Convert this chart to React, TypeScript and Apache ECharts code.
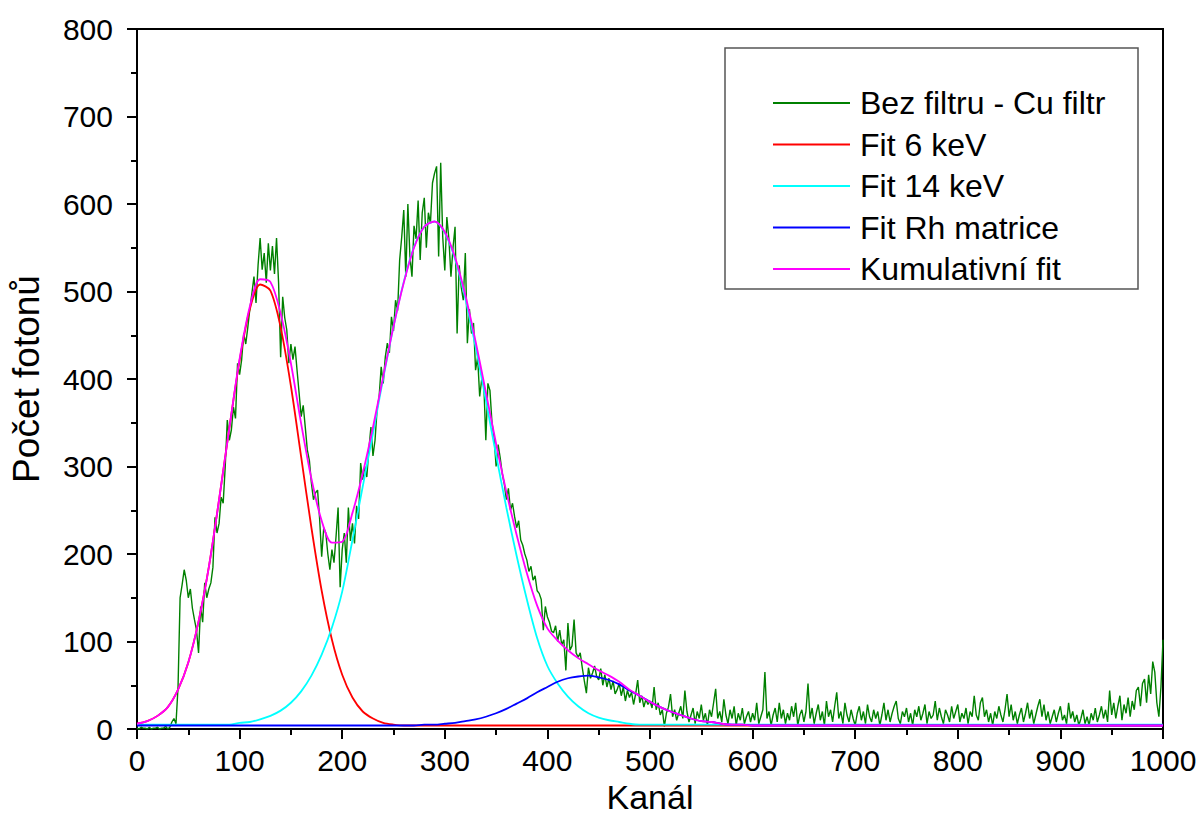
import React, { useEffect, useRef } from "react";
import * as echarts from "echarts";

// Measured spectrum (difference "Bez filtru - Cu filtr"), one value every GREEN_STEP channels
const GREEN_STEP = 2;
const greenCounts = [
  1, 0, 2, 1, 1, 0, 2, 0, 1, 1,
  2, 0, 1, 1, 3, 0, 2, 8, 12, 6,
  48, 150, 165, 182, 170, 150, 160, 138, 125, 113,
  87, 140, 122, 167, 150, 160, 167, 185, 242, 224,
  235, 265, 258, 300, 353, 330, 342, 368, 355, 418,
  405, 422, 452, 440, 459, 480, 498, 517, 487, 530,
  561, 525, 544, 510, 555, 524, 552, 520, 561, 510,
  425, 494, 470, 456, 418, 440, 422, 437, 410, 384,
  357, 370, 345, 319, 307, 281, 262, 270, 273, 240,
  197, 230, 224, 200, 182, 205, 190, 220, 253, 162,
  205, 224, 190, 253, 215, 235, 212, 255, 240, 304,
  285, 300, 288, 320, 345, 312, 330, 365, 380, 414,
  395, 425, 441, 430, 471, 455, 490, 478, 536, 562,
  593, 517, 600, 540, 517, 575, 560, 604, 536, 590,
  607, 550, 590, 578, 624, 635, 643, 540, 647, 562,
  524, 585, 560, 517, 550, 574, 452, 530, 505, 490,
  544, 441, 480, 452, 464, 410, 425, 380, 400, 395,
  330, 395, 387, 350, 334, 300, 325, 310, 292, 280,
  262, 275, 250, 258, 243, 230, 238, 216, 210, 200,
  193, 180, 186, 170, 175, 158, 155, 148, 113, 140,
  128, 122, 112, 110, 118, 100, 113, 96, 102, 67,
  121, 90, 95, 125, 87, 82, 87, 70, 55, 41,
  70, 58, 64, 72, 60, 56, 69, 50, 62, 48,
  58, 45, 55, 40, 45, 52, 38, 48, 32, 44,
  36, 42, 28, 40, 56, 30, 38, 25, 34, 28,
  32, 24, 48, 22, 30, 16, 22, 3, 18, 25,
  40, 14, 22, 10, 18, 26, 12, 44, 20, 8,
  16, 24, 6, 20, 12, 28, 10, 18, 4, 22,
  14, 30, 46, 12, 20, 8, 34, 16, 6, 22,
  12, 26, 4, 18, 10, 24, 6, 14, 20, 8,
  18, 10, 30, 6, 14, 22, 65, 12, 20, 4,
  16, 24, 8, 30, 12, 22, 6, 18, 10, 26,
  14, 30, 4, 16, 22, 8, 20, 52, 12, 24,
  6, 18, 28, 10, 20, 4, 32, 14, 22, 8,
  26, 42, 12, 20, 6, 30, 16, 8, 22, 12,
  4, 18, 26, 10, 20, 6, 28, 14, 8, 22,
  12, 20, 4, 16, 30, 10, 22, 8, 18, 26,
  32, 12, 6, 20, 14, 24, 8, 18, 4, 22,
  14, 26, 10, 18, 28, 6, 20, 12, 16, 32,
  10, 24, 14, 6, 22, 16, 8, 26, 12, 20,
  28, 8, 18, 12, 24, 6, 20, 14, 38, 16,
  10, 30, 36, 14, 22, 8, 18, 4, 20, 12,
  26, 16, 8, 22, 40, 14, 28, 10, 20, 6,
  16, 24, 8, 18, 30, 12, 22, 6, 16, 26,
  34, 14, 28, 10, 20, 6, 14, 22, 8, 18,
  26, 10, 16, 6, 30, 12, 20, 8, 16, 4,
  12, 22, 6, 14, 4, 18, 10, 24, 8, 16,
  26, 12, 22, 8, 44, 16, 30, 12, 26, 38,
  10, 28, 18, 36, 14, 32, 22, 44, 48, 26,
  52, 57, 30, 62, 40, 77, 65, 30, 14, 48,
  102,
];

// Fit curves, sampled every 10 channels from 0 to 600, then one point at 1000
const fitLast = 1000;
const fit6keV = [
  6, 9, 15, 25, 45, 76, 123, 185, 262, 344,
  421, 480, 508, 501, 459, 392, 311, 230, 158, 102,
  62, 36, 20, 12, 7, 5, 4, 4, 4, 4,
  4, 4, 4, 4, 4, 4, 4, 4, 4, 4,
  4, 4, 4, 4, 4, 4, 4, 4, 4, 4,
  4, 4, 4, 4, 4, 4, 4, 4, 4, 4,
  4, 4,
];
const fit14keV = [
  5, 5, 5, 5, 5, 5, 5, 5, 5, 5,
  7, 8, 11, 15, 21, 30, 43, 61, 85, 116,
  157, 216, 277, 338, 401, 460, 511, 551, 574, 580,
  567, 537, 492, 437, 376, 313, 253, 198, 148, 104,
  72, 52, 37, 26, 18, 13, 10, 8, 6, 5,
  5, 5, 5, 5, 5, 5, 5, 5, 5, 5,
  5, 5,
];
const fitRh = [
  4, 4, 4, 4, 4, 4, 4, 4, 4, 4,
  4, 4, 4, 4, 4, 4, 4, 4, 4, 4,
  4, 4, 4, 4, 4, 4, 4, 4, 5, 5,
  6, 7, 9, 11, 14, 18, 23, 29, 35, 42,
  48, 54, 58, 60, 61, 59, 56, 51, 44, 38,
  31, 25, 20, 16, 12, 9, 8, 6, 5, 5,
  4, 4,
];
const fitCumulative = [
  6, 9, 15, 25, 45, 76, 123, 185, 262, 344,
  423, 483, 514, 511, 475, 418, 349, 286, 238, 213,
  214, 247, 292, 345, 403, 460, 510, 550, 574, 580,
  568, 539, 496, 443, 385, 326, 271, 222, 178, 141,
  115, 101, 90, 81, 74, 67, 61, 54, 45, 38,
  31, 25, 20, 16, 12, 9, 8, 6, 5, 5,
  4, 4,
];

const seriesNames = [
  "Bez filtru - Cu filtr",
  "Fit 6 keV",
  "Fit 14 keV",
  "Fit Rh matrice",
  "Kumulativní fit",
];
const seriesColors = ["#008000", "#ff0000", "#00ffff", "#0000ff", "#ff00ff"];

const xTitle = "Kanál";
const yTitle = "Počet fotonů";

function fitPairs(values: number[]): number[][] {
  return values.map((v, i) => [i === values.length - 1 ? fitLast : i * 10, v]);
}

const FONT = 'Arial, "Liberation Sans", sans-serif';

export default function App() {
  const ref = useRef<HTMLDivElement>(null);
  useEffect(() => {
    document.body.style.margin = "0";
    if (!ref.current) return;
    const chart = echarts.init(ref.current, null, { renderer: "svg" });
    const greenData = greenCounts.map((v, i) => [i * GREEN_STEP, v]);
    const fits = [fit6keV, fit14keV, fitRh, fitCumulative];
    const axisCommon = {
      axisLine: { show: true, lineStyle: { color: "#000", width: 2 } },
      axisTick: { show: true, inside: false, length: 10, lineStyle: { color: "#000", width: 2 } },
      minorTick: { show: true, splitNumber: 2, length: 6, lineStyle: { color: "#000", width: 2 } },
      splitLine: { show: false },
      minorSplitLine: { show: false },
    };
    chart.setOption({
      animation: false,
      backgroundColor: "#fff",
      grid: {
        left: 136,
        top: 29,
        width: 1027,
        height: 700,
        show: true,
        borderColor: "#000",
        borderWidth: 2,
        containLabel: false,
      },
      xAxis: {
        type: "value",
        min: 0,
        max: 1000,
        interval: 100,
        name: xTitle,
        nameLocation: "middle",
        nameGap: 51,
        nameTextStyle: { fontFamily: FONT, fontSize: 34, color: "#000" },
        axisLabel: {
          fontFamily: FONT,
          fontSize: 30,
          color: "#000",
          margin: 16,
          formatter: (v: number) => String(v),
        },
        ...axisCommon,
      },
      yAxis: {
        type: "value",
        min: 0,
        max: 800,
        interval: 100,
        name: yTitle,
        nameLocation: "middle",
        nameGap: 92,
        nameRotate: 90,
        nameTextStyle: { fontFamily: FONT, fontSize: 37, color: "#000" },
        axisLabel: {
          fontFamily: FONT,
          fontSize: 30,
          color: "#000",
          margin: 24,
          formatter: (v: number) => String(v),
        },
        ...axisCommon,
      },
      legend: {
        show: true,
        orient: "vertical",
        left: 773,
        top: 87,
        padding: 0,
        itemWidth: 77,
        itemHeight: 30,
        itemGap: 9.5,
        icon: "path://M0,11 L77,11 L77,13 L0,13 Z",
        textStyle: {
          fontFamily: FONT,
          fontSize: 32,
          lineHeight: 32,
          color: "#000",
          padding: [0, 0, 0, 5],
        },
        data: seriesNames,
      },
      graphic: [
        {
          type: "rect",
          shape: { x: 725, y: 48, width: 413, height: 241 },
          style: { fill: "none", stroke: "#555", lineWidth: 1.5 },
          z: 10,
        },
      ],
      series: [
        {
          name: seriesNames[0],
          type: "line",
          data: greenData,
          symbol: "none",
          itemStyle: { color: seriesColors[0] },
          lineStyle: { color: seriesColors[0], width: 1.4 },
          z: 2,
        },
        ...fits.map((f, k) => ({
          name: seriesNames[k + 1],
          type: "line",
          data: fitPairs(f),
          symbol: "none",
          smooth: 0.3,
          itemStyle: { color: seriesColors[k + 1] },
          lineStyle: { color: seriesColors[k + 1], width: 1.8 },
          z: 3 + k,
        })),
      ],
    });
    return () => chart.dispose();
  }, []);
  return <div ref={ref} style={{ width: 1202, height: 825 }} />;
}
